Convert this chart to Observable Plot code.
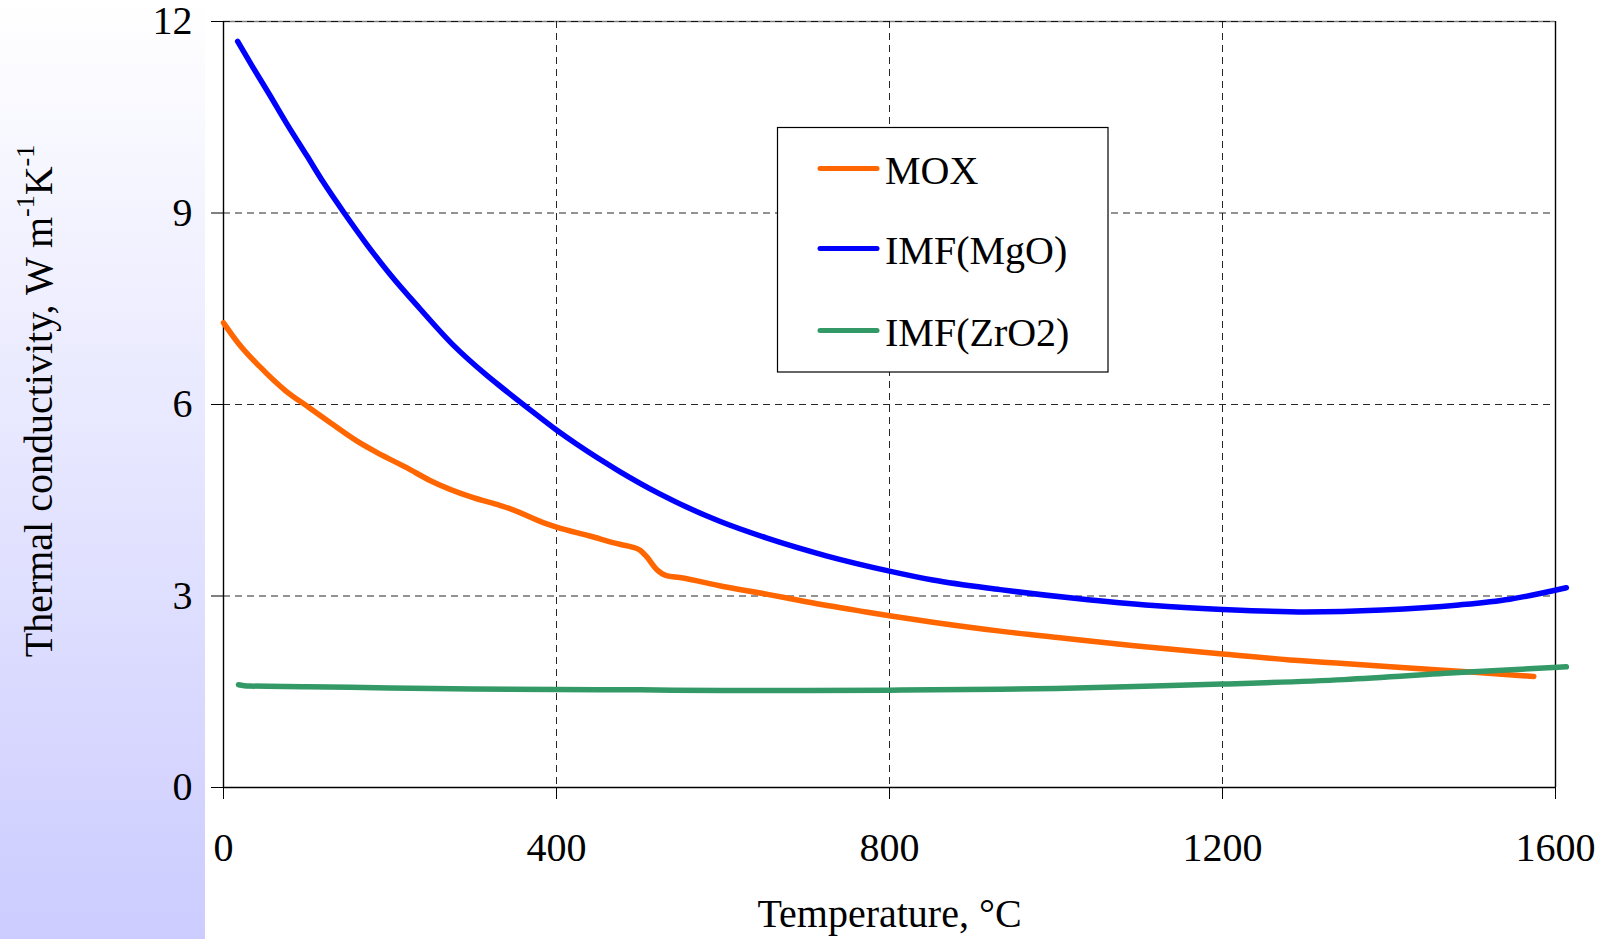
<!DOCTYPE html>
<html>
<head>
<meta charset="utf-8">
<script src="https://cdn.jsdelivr.net/npm/d3@7"></script>
<script src="https://cdn.jsdelivr.net/npm/@observablehq/plot@0.6"></script>
<style>
  html, body { margin: 0; padding: 0; background: #fff; }
  #wrap { position: relative; width: 1613px; height: 939px; overflow: hidden; background: #fff; }
  #strip { position: absolute; left: 0; top: 0; width: 205px; height: 939px;
           background: linear-gradient(to bottom, #ffffff 0%, #ccccff 100%); }
  #chart { position: absolute; left: 0; top: 0; }
</style>
</head>
<body>
<div id="wrap"><div id="strip"></div><div id="chart"></div></div>
<script>
// ---- data ----
const seriesNames = ["MOX", "IMF(MgO)", "IMF(ZrO2)"];
const seriesColors = ["#FF6600", "#0000FF", "#339966"];

const moxT = [0, 19, 43, 75, 103, 131, 160, 184, 220, 248, 300, 332, 344, 384, 400, 440, 476, 490, 500, 508, 520, 532, 548, 600, 652, 700, 772, 800, 852, 933, 1002, 1094, 1200, 1300, 1337, 1415, 1507, 1574];
const moxK = [7.28, 6.94, 6.60, 6.21, 5.95, 5.69, 5.43, 5.25, 5.01, 4.81, 4.54, 4.42, 4.37, 4.15, 4.08, 3.94, 3.81, 3.77, 3.72, 3.62, 3.42, 3.32, 3.29, 3.15, 3.03, 2.91, 2.75, 2.69, 2.59, 2.45, 2.35, 2.22, 2.09, 1.98, 1.95, 1.88, 1.80, 1.74];

const mgoT = [17, 35, 55, 75, 100, 120, 145, 172, 200, 236, 276, 316, 332, 370, 400, 424, 476, 524, 596, 652, 724, 800, 852, 933, 1025, 1117, 1200, 1300, 1392, 1484, 1545, 1613];
const mgoK = [11.69, 11.29, 10.86, 10.42, 9.90, 9.48, 9.00, 8.51, 8.04, 7.50, 6.93, 6.46, 6.29, 5.90, 5.60, 5.38, 4.95, 4.60, 4.17, 3.91, 3.63, 3.39, 3.25, 3.10, 2.96, 2.85, 2.79, 2.75, 2.78, 2.86, 2.95, 3.13];

const zroT = [18, 30, 100, 200, 300, 400, 500, 600, 700, 800, 933, 1000, 1117, 1200, 1346, 1484, 1613];
const zroK = [1.61, 1.59, 1.58, 1.56, 1.545, 1.535, 1.53, 1.52, 1.52, 1.525, 1.54, 1.55, 1.59, 1.62, 1.69, 1.80, 1.89];

const xTicks = [0, 400, 800, 1200, 1600];
const yTicks = [0, 3, 6, 9, 12];
const xLabel = "Temperature, °C";
const yLabelMain = "Thermal conductivity, W m";

// ---- build rows ----
const rows = [];
[[moxT, moxK], [mgoT, mgoK], [zroT, zroK]].forEach(([ts, ks], i) => {
  ts.forEach((t, j) => rows.push({series: seriesNames[i], t, k: ks[j]}));
});

const font = "'Liberation Serif', 'Times New Roman', serif";
const dash = "7,5";

const chart = Plot.plot({
  width: 1613,
  height: 939,
  marginLeft: 223,
  marginRight: 58,
  marginTop: 21,
  marginBottom: 152,
  style: {background: "transparent", fontFamily: font, fontSize: "40px", color: "#000", overflow: "visible"},
  x: {domain: [0, 1600], ticks: xTicks, label: null},
  y: {domain: [0, 12], ticks: yTicks, label: null},
  color: {domain: seriesNames, range: seriesColors},
  marks: [
    Plot.ruleY([12], {stroke: "#808080", strokeWidth: 1.5}),
    Plot.gridX({ticks: xTicks, stroke: "#000", strokeOpacity: 0.85, strokeWidth: 1, strokeDasharray: dash}),
    Plot.gridY({ticks: yTicks, stroke: "#000", strokeOpacity: 0.85, strokeWidth: 1, strokeDasharray: dash}),
    Plot.ruleX([1600], {stroke: "#000", strokeWidth: 1.4}),
    Plot.ruleX([0], {stroke: "#000", strokeWidth: 1.4}),
    Plot.ruleY([0], {stroke: "#000", strokeWidth: 1.6}),
    Plot.axisX({ticks: xTicks, tickSize: 12, tickPadding: 33, fontSize: 40, label: null, stroke: "#000", tickFormat: d3.format("d")}),
    Plot.axisY({ticks: yTicks, tickSize: 12, tickPadding: 19, fontSize: 40, label: null, stroke: "#000", tickFormat: d3.format("d")}),
    Plot.text([xLabel], {frameAnchor: "bottom", dy: 139, fontSize: 40, fill: "#000"}),
    Plot.line(rows, {x: "t", y: "k", z: "series", stroke: "series", strokeWidth: 5.5,
      strokeLinecap: "round", strokeLinejoin: "round", curve: "monotone-x", clip: false})
  ]
});

document.getElementById("chart").appendChild(chart);

const svg = d3.select(chart);

// y-axis title with superscripts
const yl = svg.append("text")
  .attr("transform", "translate(52,401) rotate(-90)")
  .attr("text-anchor", "middle")
  .attr("font-family", font)
  .attr("font-size", 40)
  .attr("fill", "#000");
yl.append("tspan").text(yLabelMain);
yl.append("tspan").attr("font-size", 26).attr("dy", -18).text("-1");
yl.append("tspan").attr("dy", 18).text("K");
yl.append("tspan").attr("font-size", 26).attr("dy", -18).text("-1");

// legend box
const lg = svg.append("g").attr("text-anchor", "start");
lg.append("rect")
  .attr("x", 777.5).attr("y", 127.5).attr("width", 330.5).attr("height", 244.5)
  .attr("fill", "#fff").attr("stroke", "#000").attr("stroke-width", 1.2);
const legendY = [168.5, 248.5, 330.5];
seriesNames.forEach((name, i) => {
  lg.append("line")
    .attr("x1", 820).attr("x2", 877)
    .attr("y1", legendY[i]).attr("y2", legendY[i])
    .attr("stroke", seriesColors[i]).attr("stroke-width", 5)
    .attr("stroke-linecap", "round");
  lg.append("text")
    .attr("x", 885).attr("y", legendY[i] + 15)
    .attr("text-anchor", "start")
    .attr("font-family", font).attr("font-size", 40).attr("fill", "#000")
    .text(name);
});
</script>
</body>
</html>
